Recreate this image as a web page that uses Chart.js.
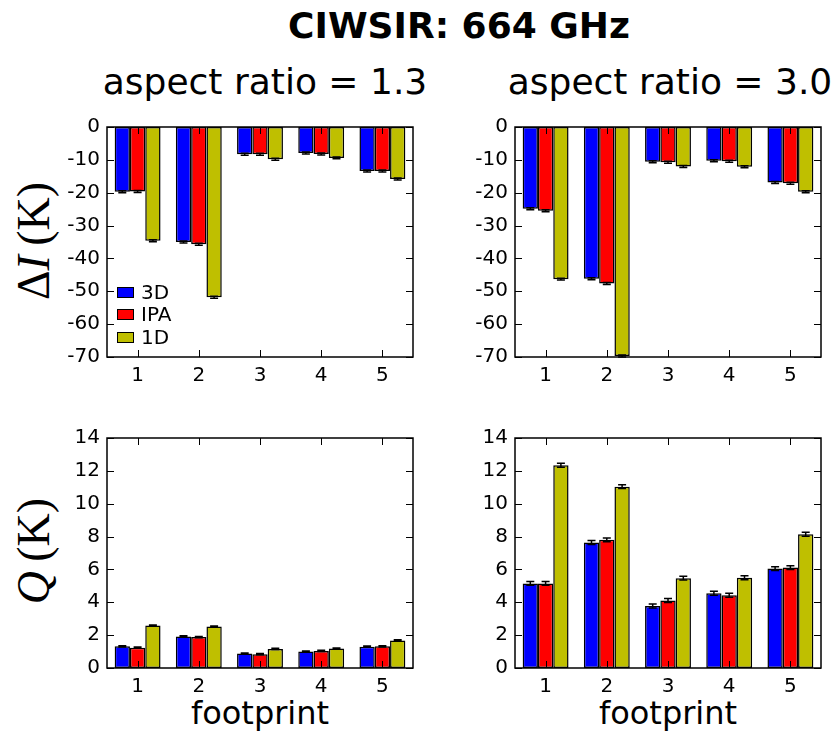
<!DOCTYPE html>
<html>
<head>
<meta charset="utf-8">
<script src="https://cdn.jsdelivr.net/npm/chart.js@4.4.0/dist/chart.umd.min.js"></script>
<style>
  body { margin: 0; background: #fff; }
  #fig { position: relative; width: 838px; height: 731px; overflow: hidden; font-family: 'DejaVu Sans', sans-serif; color: #000; }
  .txt { position: absolute; white-space: nowrap; line-height: 1; text-align: center; }
  .ylab { position: absolute; white-space: nowrap; line-height: 1; font-family: 'Liberation Serif', serif; font-size: 46px;
          transform: translate(-50%, -50%) rotate(-90deg); }
  canvas { position: absolute; }
  .leg { position: absolute; font-size: 20px; line-height: 1; }
  .leg span.sw { position: absolute; width: 15px; height: 9px; border: 1px solid #000; }
  .leg span.lb { position: absolute; }
</style>
</head>
<body>
<div id="fig">
  <div class="txt" style="left:159px; width:600px; top:8px; font-size:36px; font-weight:bold;">CIWSIR: 664 GHz</div>
  <div class="txt" style="left:65px; width:400px; top:64px; font-size:36px;">aspect ratio = 1.3</div>
  <div class="txt" style="left:470px; width:400px; top:64px; font-size:36px;">aspect ratio = 3.0</div>
  <div class="ylab" style="left:34px; top:241px;">Δ<i>I</i>&#8201;(K)</div>
  <div class="ylab" style="left:34px; top:551px;"><i>Q</i>&#8201;(K)</div>
  <div class="txt" style="left:60px; width:400px; top:697px; font-size:32px;">footprint</div>
  <div class="txt" style="left:468px; width:400px; top:697px; font-size:32px;">footprint</div>

  <canvas id="tl"></canvas>
  <canvas id="tr"></canvas>
  <canvas id="bl"></canvas>
  <canvas id="br"></canvas>

  <div class="leg" style="left:117px; top:282px;">
    <span class="sw" style="left:0; top:5px; background:#0000ff;"></span><span class="lb" style="left:24px; top:0;">3D</span>
    <span class="sw" style="left:0; top:27px; background:#ff0000;"></span><span class="lb" style="left:24px; top:22px;">IPA</span>
    <span class="sw" style="left:0; top:50px; background:#bfbf00;"></span><span class="lb" style="left:24px; top:45px;">1D</span>
  </div>
</div>

<script>
const footprints = ['1', '2', '3', '4', '5'];

// Delta I (K), aspect ratio 1.3
const dI13_3D  = [-19.7, -35.0, -8.3, -7.9, -13.4];
const dI13_IPA = [-19.6, -35.7, -8.3, -8.2, -13.4];
const dI13_1D  = [-34.6, -51.8, -9.8, -9.4, -15.8];
// Delta I (K), aspect ratio 3.0
const dI30_3D  = [-24.9, -46.2, -10.6, -10.3, -16.9];
const dI30_IPA = [-25.5, -47.6, -10.7, -10.4, -17.1];
const dI30_1D  = [-46.3, -69.7, -12.0, -12.1, -19.7];
// Q (K), aspect ratio 1.3
const Q13_3D  = [1.32, 1.92, 0.88, 1.00, 1.30];
const Q13_IPA = [1.24, 1.88, 0.84, 1.04, 1.32];
const Q13_1D  = [2.58, 2.52, 1.16, 1.18, 1.68];
// Q (K), aspect ratio 3.0
const Q30_3D  = [5.15, 7.64, 3.77, 4.55, 6.05];
const Q30_IPA = [5.15, 7.80, 4.11, 4.43, 6.11];
const Q30_1D  = [12.34, 11.04, 5.47, 5.49, 8.14];

// error bar half-lengths
const dIErr = [0.3, 0.3, 0.3, 0.3, 0.3];
const Q13Err = [0.04, 0.04, 0.04, 0.04, 0.04];
const Q30Err = [0.12, 0.12, 0.12, 0.12, 0.12];

const dITicks = { min: -70, max: 0, step: 10 };
const QTicks = { min: 0, max: 14, step: 2 };

const colors = { '3D': '#0000ff', 'IPA': '#ff0000', '1D': '#bfbf00' };

// plot area geometry
const PLOT_W = 306, PLOT_H = 233;
const AX_W = 70, AX_H = 34, PAD_T = 16, PAD_R = 14;

const framePlugin = {
  id: 'frame',
  afterDatasetsDraw(chart) {
    const { ctx, chartArea: a, scales } = chart;
    ctx.save();
    // error bars
    ctx.strokeStyle = '#000';
    ctx.lineWidth = 1.5;
    chart.data.datasets.forEach((ds, i) => {
      const meta = chart.getDatasetMeta(i);
      meta.data.forEach((bar, j) => {
        const v = ds.data[j], e = ds.errors[j];
        const y1 = scales.y.getPixelForValue(v - e);
        const y2 = scales.y.getPixelForValue(v + e);
        ctx.beginPath();
        ctx.moveTo(bar.x, y1); ctx.lineTo(bar.x, y2);
        ctx.moveTo(bar.x - 4, y1); ctx.lineTo(bar.x + 4, y1);
        ctx.moveTo(bar.x - 4, y2); ctx.lineTo(bar.x + 4, y2);
        ctx.stroke();
      });
    });
    // inward ticks on all sides
    ctx.lineWidth = 1;
    ctx.beginPath();
    scales.y.ticks.forEach((t, i) => {
      const y = Math.round(scales.y.getPixelForTick(i)) + 0.5;
      ctx.moveTo(a.left, y); ctx.lineTo(a.left + 7, y);
      ctx.moveTo(a.right, y); ctx.lineTo(a.right - 7, y);
    });
    scales.x.ticks.forEach((t, i) => {
      const x = Math.round(scales.x.getPixelForTick(i)) + 0.5;
      ctx.moveTo(x, a.bottom); ctx.lineTo(x, a.bottom - 7);
      ctx.moveTo(x, a.top); ctx.lineTo(x, a.top + 7);
    });
    ctx.stroke();
    // frame
    ctx.lineWidth = 1.5;
    ctx.strokeRect(a.left, a.top, a.right - a.left, a.bottom - a.top);
    ctx.restore();
  }
};

function makePanel(id, plotLeft, plotTop, s3D, sIPA, s1D, errs, yr) {
  const cv = document.getElementById(id);
  cv.width = PLOT_W + AX_W + PAD_R;
  cv.height = PLOT_H + AX_H + PAD_T;
  cv.style.left = (plotLeft - AX_W) + 'px';
  cv.style.top = (plotTop - PAD_T) + 'px';
  const tickFont = { family: 'DejaVu Sans', size: 20 };
  return new Chart(cv.getContext('2d'), {
    type: 'bar',
    data: {
      labels: footprints,
      datasets: [
        { label: '3D', data: s3D, errors: errs, backgroundColor: colors['3D'] },
        { label: 'IPA', data: sIPA, errors: errs, backgroundColor: colors['IPA'] },
        { label: '1D', data: s1D, errors: errs, backgroundColor: colors['1D'] }
      ]
    },
    options: {
      responsive: false,
      animation: false,
      layout: { padding: { top: PAD_T, right: PAD_R, left: 0, bottom: 0 } },
      datasets: {
        bar: {
          categoryPercentage: 0.75,
          barPercentage: 1.0,
          borderColor: '#000',
          borderWidth: 1.5,
          borderSkipped: false
        }
      },
      plugins: { legend: { display: false }, tooltip: { enabled: false } },
      scales: {
        x: {
          grid: { display: false, drawTicks: false },
          border: { display: false },
          ticks: { color: '#000', font: tickFont, padding: 7, maxRotation: 0 },
          afterFit: s => { s.height = AX_H; }
        },
        y: {
          min: yr.min,
          max: yr.max,
          grid: { display: false, drawTicks: false },
          border: { display: false },
          ticks: { stepSize: yr.step, color: '#000', font: tickFont, padding: 7 },
          afterFit: s => { s.width = AX_W; }
        }
      }
    },
    plugins: [framePlugin]
  });
}

makePanel('tl', 107, 124, dI13_3D, dI13_IPA, dI13_1D, dIErr, dITicks);
makePanel('tr', 515, 124, dI30_3D, dI30_IPA, dI30_1D, dIErr, dITicks);
makePanel('bl', 107, 435, Q13_3D, Q13_IPA, Q13_1D, Q13Err, QTicks);
makePanel('br', 515, 435, Q30_3D, Q30_IPA, Q30_1D, Q30Err, QTicks);
</script>
</body>
</html>
